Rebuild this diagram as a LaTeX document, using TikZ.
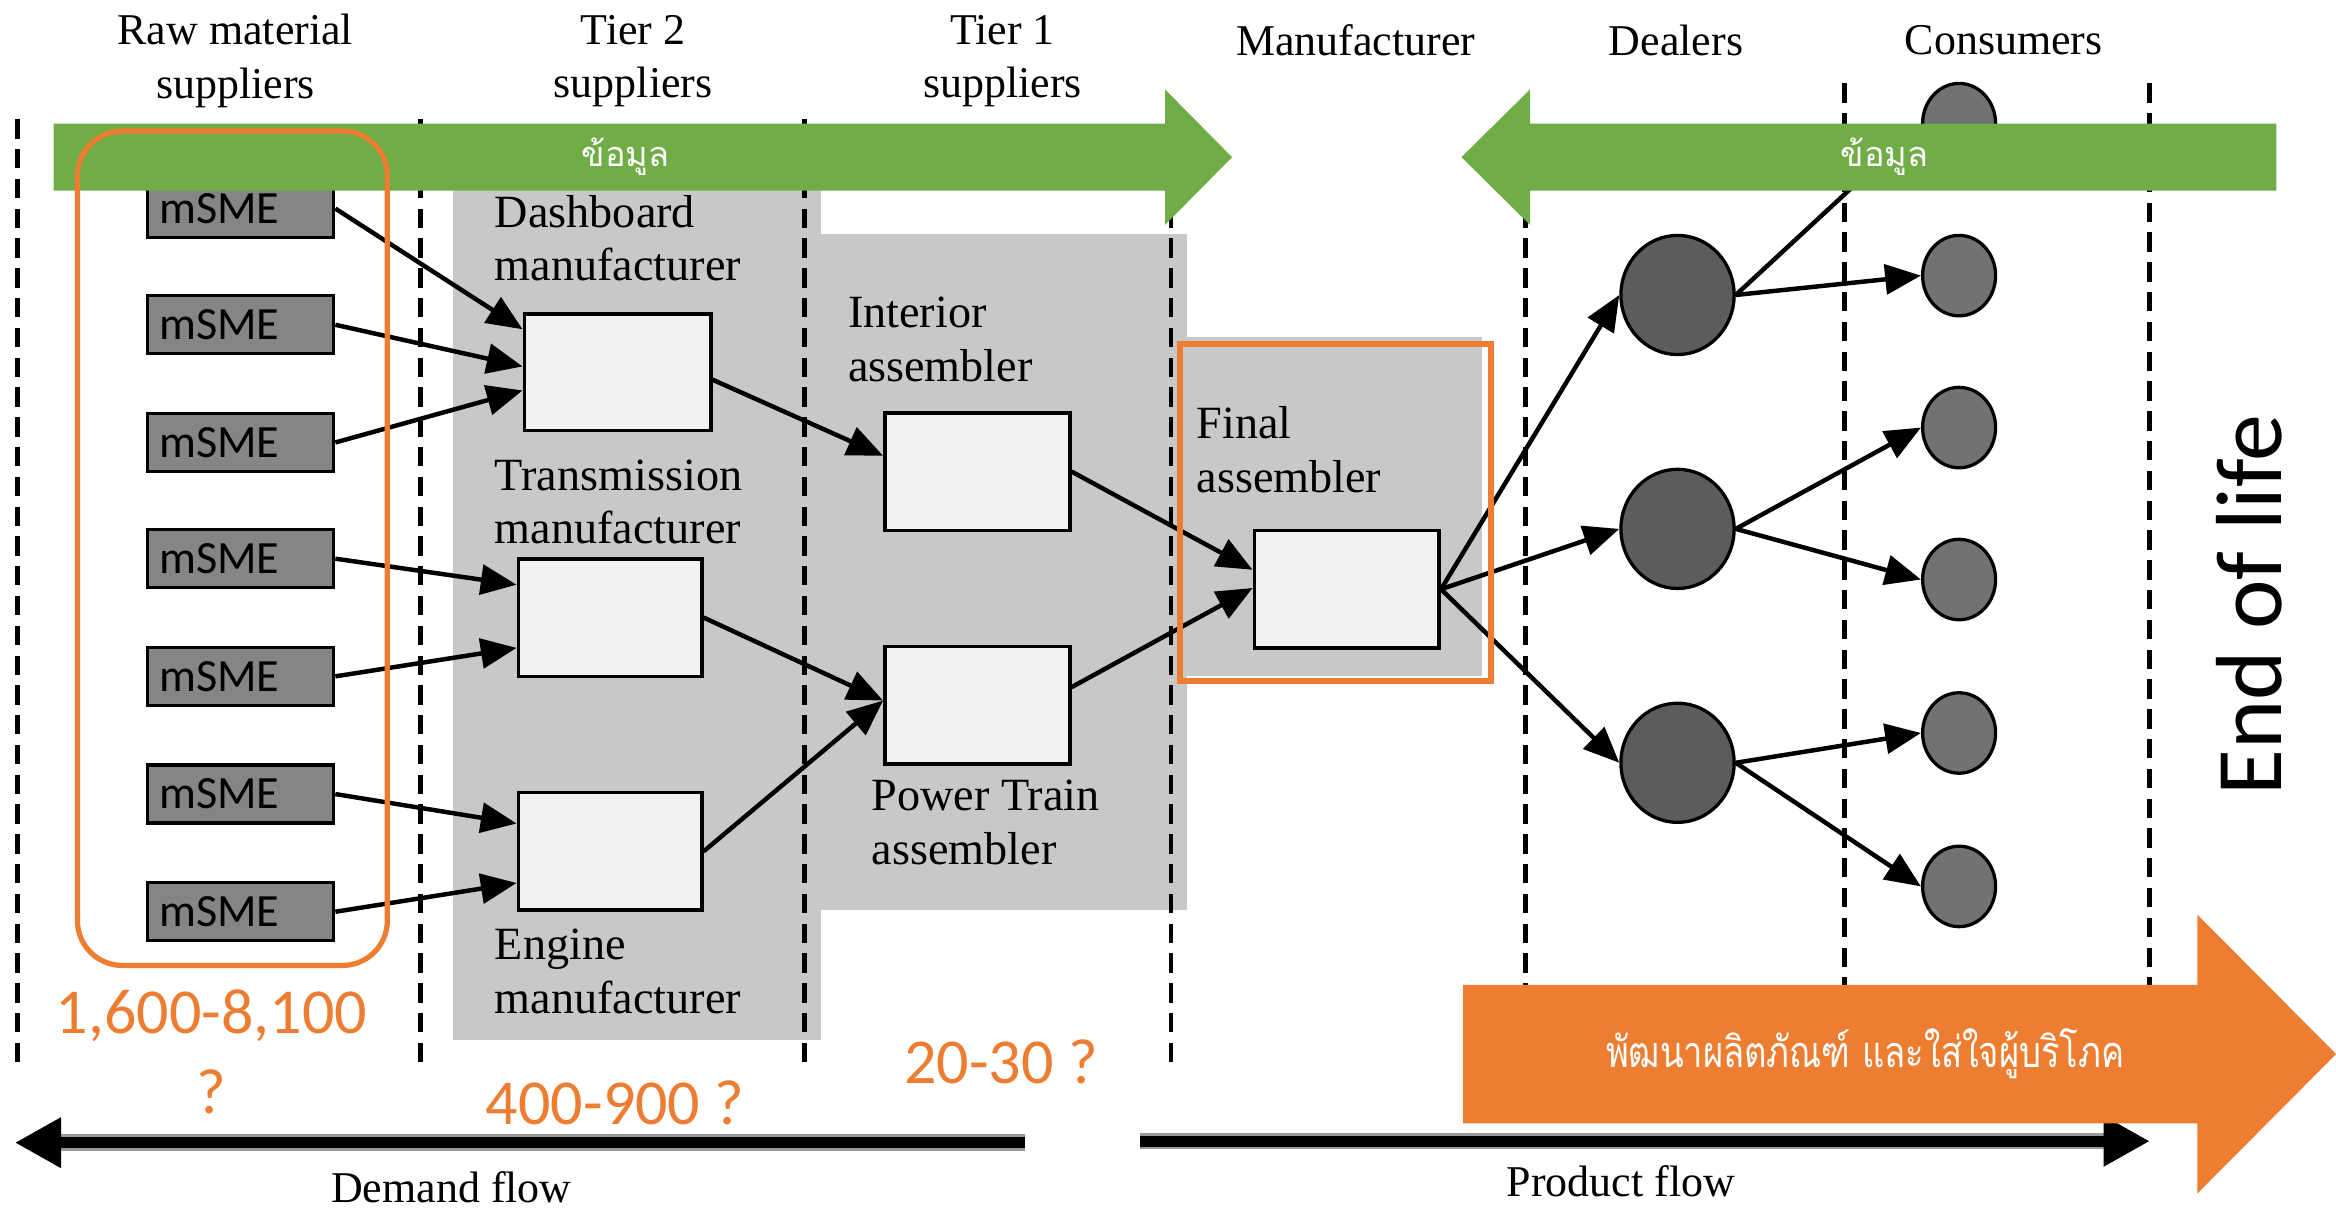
\documentclass[tikz,border=0pt]{standalone}
\usepackage{fontspec}
\setmainfont{Liberation Serif}
\newfontfamily\carlito{Carlito}
\newfontfamily\thaifont[Script=Thai]{Loma}
\newfontfamily\thaicond[Script=Thai,FakeStretch=0.8]{Loma}
\usetikzlibrary{arrows.meta,shapes.geometric,calc}
\definecolor{ogreen}{HTML}{70AD47}
\definecolor{oorange}{HTML}{ED7D31}
\definecolor{panelgray}{HTML}{C8C8C8}
\definecolor{msmegray}{HTML}{858585}
\definecolor{boxwhite}{HTML}{F2F2F2}
\definecolor{dealergray}{HTML}{5C5C5C}
\definecolor{consgray}{HTML}{727272}
\begin{document}
\begin{tikzpicture}[x=1pt,y=-1pt,
  divider/.style={line width=3.2pt, dash pattern=on 13pt off 7pt},
  panel/.style={fill=panelgray, draw=none},
  msme/.style={draw=black, line width=2.2pt, fill=msmegray, minimum width=125pt, minimum height=39pt,
    inner xsep=8pt, inner ysep=0pt, text width=109pt, align=left, font=\carlito\fontsize{31}{36}\selectfont},
  wbox/.style={draw=black, line width=2.5pt, fill=boxwhite, minimum width=124pt, minimum height=79pt, inner sep=0pt},
  dealer/.style={ellipse, draw=black, line width=2.2pt, fill=dealergray, minimum width=76pt, minimum height=80pt, inner sep=0pt},
  consumer/.style={ellipse, draw=black, line width=2.2pt, fill=consgray, minimum width=49pt, minimum height=54pt, inner sep=0pt},
  conn/.style={line width=3pt, -{Triangle[length=24pt,width=20pt]}},
  hdr/.style={font=\fontsize{29.5}{36}\selectfont, align=center, inner sep=0pt},
  plabel/.style={font=\fontsize{31}{36}\selectfont, align=left, anchor=west, inner sep=0pt},
  num/.style={text=oorange, font=\carlito\fontsize{43}{52}\selectfont, inner sep=0pt},
  thai/.style={text=white, font=\thaifont\fontsize{23}{28}\selectfont, inner sep=0pt},
  bigflow/.style={line width=7.5pt, -{Triangle[length=31pt,width=32pt]}},
  flowshadow/.style={line width=11pt, draw=black!40},
  orangebox/.style={draw=oorange, line width=4pt}
]
\path[use as bounding box] (0,0) rectangle (1568,813);

% gray panels
\fill[panel] (304,120) rectangle (551,698);
\fill[panel] (551,157) rectangle (797,611);
\fill[panel] (797,226) rectangle (995,454);

% dashed dividers
\foreach \xx in {12,282,540,786,1024} {\draw[divider] (\xx,80) -- (\xx,720);}
\foreach \xx in {1238,1443} {\draw[divider] (\xx,56) -- (\xx,720);}

% mSME boxes
\node[msme] (m1) at (161.5,140) {mSME};
\node[msme] (m2) at (161.5,218) {mSME};
\node[msme] (m3) at (161.5,297) {mSME};
\node[msme] (m4) at (161.5,375) {mSME};
\node[msme] (m5) at (161.5,454) {mSME};
\node[msme] (m6) at (161.5,533) {mSME};
\node[msme] (m7) at (161.5,612) {mSME};

% white boxes
\node[wbox, minimum width=125pt, minimum height=78pt] (dash) at (414.5,250) {};
\node[wbox, minimum width=123pt] (trans) at (409.5,414.5) {};
\node[wbox, minimum width=123pt] (eng) at (409.5,571.5) {};
\node[wbox] (inter) at (656,316.5) {};
\node[wbox] (power) at (656,473.5) {};
\node[wbox] (final) at (904,395.5) {};

% dealers and consumers
\node[dealer] (d1) at (1126,198) {};
\node[dealer] (d2) at (1126,355) {};
\node[dealer] (d3) at (1126,512) {};
\node[consumer] (c0) at (1315,83) {};
\node[consumer] (c1) at (1315,185) {};
\node[consumer] (c2) at (1315,287) {};
\node[consumer] (c3) at (1315,389) {};
\node[consumer] (c4) at (1315,492) {};
\node[consumer] (c5) at (1315,595) {};

% connectors
\draw[conn] (m1.east) -- ($(dash.north west)!0.14!(dash.south west)$);
\draw[conn] (m2.east) -- ($(dash.north west)!0.45!(dash.south west)$);
\draw[conn] (m3.east) -- ($(dash.north west)!0.65!(dash.south west)$);
\draw[conn] (m4.east) -- ($(trans.north west)!0.23!(trans.south west)$);
\draw[conn] (m5.east) -- ($(trans.north west)!0.75!(trans.south west)$);
\draw[conn] (m6.east) -- ($(eng.north west)!0.27!(eng.south west)$);
\draw[conn] (m7.east) -- ($(eng.north west)!0.76!(eng.south west)$);
\draw[conn] ($(dash.north east)!0.56!(dash.south east)$) -- ($(inter.north west)!0.37!(inter.south west)$);
\draw[conn] (trans.east) -- ($(power.north west)!0.46!(power.south west)$);
\draw[conn] (eng.east) -- ($(power.north west)!0.46!(power.south west)$);
\draw[conn] (inter.east) -- ($(final.north west)!0.34!(final.south west)$);
\draw[conn] ($(power.north east)!0.35!(power.south east)$) -- ($(final.north west)!0.49!(final.south west)$);
\draw[conn] (final.east) -- (d1.west);
\draw[conn] (final.east) -- (d2.west);
\draw[conn] (final.east) -- (d3.west);
\draw[conn] (d1.east) -- (c0.west);
\draw[conn] (d1.east) -- (c1.west);
\draw[conn] (d2.east) -- (c2.west);
\draw[conn] (d2.east) -- (c3.west);
\draw[conn] (d3.east) -- (c4.west);
\draw[conn] (d3.east) -- (c5.west);

% headers
\node[hdr] (h1) at (158,41) {Raw material\\suppliers};
\node[hdr] (h2) at (425,41) {Tier 2\\suppliers};
\node[hdr] (h3) at (673,41) {Tier 1\\suppliers};
\node[hdr] (h4) at (910,27) {Manufacturer};
\node[hdr] (h5) at (1125,27) {Dealers};
\node[hdr] (h6) at (1345,27) {Consumers};

% panel labels
\node[plabel] (ldash) at (332,160) {Dashboard\\manufacturer};
\node[plabel] (ltrans) at (332,337) {Transmission\\manufacturer};
\node[plabel] (leng) at (332,652) {Engine\\manufacturer};
\node[plabel] (linter) at (569,228) {Interior\\assembler};
\node[plabel] (lpower) at (585,552) {Power Train\\assembler};
\node[plabel] (lfinal) at (803,302) {Final\\assembler};

% green information arrows
\fill[ogreen] (36,83) -- (782,83) -- (782,60) -- (827,105.5) -- (782,151) -- (782,128) -- (36,128) -- cycle;
\node[thai] (info1) at (420,105) {ข้อมูล};
\fill[ogreen] (1528,83) -- (1027,83) -- (1027,60) -- (981,105.5) -- (1027,151) -- (1027,128) -- (1528,128) -- cycle;
\node[thai] (info2) at (1265,105) {ข้อมูล};

% orange highlight boxes
\draw[orangebox, line width=3.5pt, rounded corners=30pt] (52,88) rectangle (260,648);
\draw[orangebox] (792,231) rectangle (1001,457);

% flow arrows
\coordinate (dfR) at (688,767);
\coordinate (dfL) at (10,767);
\coordinate (pfL) at (765,766);
\coordinate (pfR) at (1443,766);
\draw[flowshadow] (dfR) -- ($(dfL)+(30,0)$);
\draw[bigflow] (dfR) -- (dfL);
\draw[flowshadow] (pfL) -- ($(pfR)+(-30,0)$);
\draw[bigflow] (pfL) -- (pfR);
\node[hdr] (demand) at (303,797) {Demand flow};
\node[hdr] (product) at (1088,793) {Product flow};

% orange development arrow
\fill[oorange] (982,661) -- (1475,661) -- (1475,614) -- (1568,707.5) -- (1475,801) -- (1475,754) -- (982,754) -- cycle;
\node[thai, font=\thaicond\fontsize{29}{34}\selectfont] (dev) at (1252,707) {พัฒนาผลิตภัณฑ์ และใส่ใจผู้บริโภค};

% end of life
\node[rotate=90, font=\carlito\fontsize{63}{70}\selectfont, inner sep=0pt] (eol) at (1510,406) {End of life};

% numbers
\node[num] (n1) at (142,682) {1,600-8,100};
\node[num] (n1q) at (142,733) {?};
\node[num] (n2) at (413,740) {400-900 ?};
\node[num] (n3) at (672,713) {20-30 ?};
\end{tikzpicture}
\end{document}
